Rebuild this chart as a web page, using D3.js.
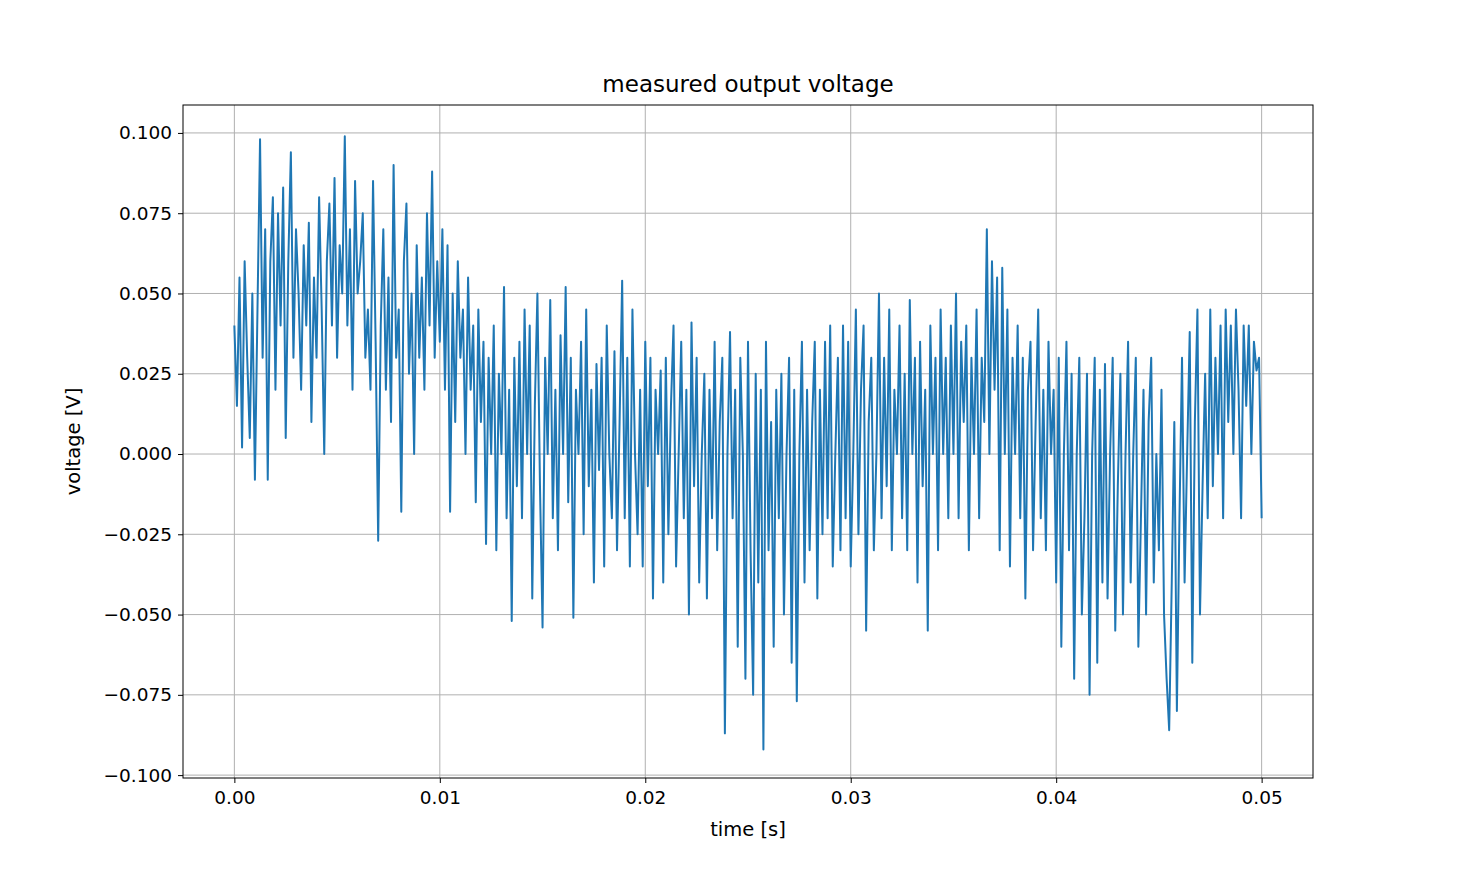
<!DOCTYPE html>
<html><head><meta charset="utf-8">
<script src="https://cdn.jsdelivr.net/npm/d3@7"></script>
<style>body{margin:0;background:#fff}text{font-family:"DejaVu Sans",sans-serif}</style>
</head><body><svg id="c" width="1459" height="875"></svg>
<script>
const title = "measured output voltage";
const xLabel = "time [s]";
const yLabel = "voltage [V]";
const xTicks = [0, 0.01, 0.02, 0.03, 0.04, 0.05];
const yTicks = [-0.1, -0.075, -0.05, -0.025, 0, 0.025, 0.05, 0.075, 0.1];
const dt = 0.000125;
const voltage = [
0.04,0.015,0.055,0.002,0.06,0.03,0.005,0.05,-0.008,0.045,
0.098,0.03,0.07,-0.008,0.06,0.08,0.02,0.075,0.04,0.083,
0.005,0.06,0.094,0.03,0.07,0.05,0.02,0.065,0.04,0.072,
0.01,0.055,0.03,0.08,0.045,0.0,0.06,0.078,0.04,0.086,
0.03,0.065,0.05,0.099,0.04,0.07,0.02,0.085,0.05,0.06,
0.075,0.03,0.045,0.02,0.085,0.035,-0.027,0.04,0.07,0.02,
0.055,0.01,0.09,0.03,0.045,-0.018,0.06,0.078,0.025,0.05,
0.0,0.065,0.03,0.055,0.02,0.075,0.04,0.088,0.03,0.06,
0.035,0.07,0.02,0.065,-0.018,0.05,0.01,0.06,0.03,0.045,
0.0,0.055,0.02,0.04,-0.015,0.045,0.01,0.035,-0.028,0.03,
0.0,0.04,-0.03,0.025,0.0,0.052,-0.02,0.02,-0.052,0.03,
-0.01,0.035,-0.02,0.045,0.0,0.04,-0.045,0.015,0.05,-0.01,
-0.054,0.03,0.0,0.048,-0.02,0.02,-0.03,0.037,0.0,0.052,
-0.015,0.03,-0.051,0.02,0.0,0.035,-0.025,0.045,-0.01,0.02,
-0.04,0.028,-0.005,0.03,-0.035,0.04,0.0,-0.02,0.032,-0.03,
0.01,0.054,-0.02,0.03,-0.035,0.045,0.0,-0.025,0.02,-0.035,
0.035,-0.01,0.03,-0.045,0.02,0.0,0.026,-0.04,0.03,-0.025,
0.015,0.04,-0.035,0.0,0.035,-0.02,0.02,-0.05,0.041,-0.01,
0.03,-0.04,0.0,0.025,-0.045,0.02,-0.02,0.035,-0.03,0.01,
0.03,-0.087,0.0,0.038,-0.02,0.02,-0.06,0.03,0.0,-0.07,
0.035,-0.03,-0.075,0.025,-0.04,0.02,-0.092,0.035,-0.03,0.01,
-0.06,0.02,-0.02,0.025,-0.05,0.0,0.03,-0.065,0.02,-0.077,
0.0,0.035,-0.04,0.02,-0.03,0.01,0.035,-0.045,0.02,-0.025,
0.035,-0.02,0.04,-0.035,0.0,0.03,-0.03,0.04,-0.02,0.035,
-0.035,0.0,0.045,-0.025,0.02,0.04,-0.055,0.01,0.03,-0.03,
0.0,0.05,-0.02,0.03,-0.01,0.045,-0.03,0.02,0.0,0.04,
-0.02,0.025,-0.03,0.048,0.0,0.03,-0.04,0.035,-0.01,0.02,
-0.055,0.04,0.0,0.03,-0.03,0.045,0.0,0.03,-0.02,0.04,
0.0,0.05,-0.02,0.035,0.01,0.04,-0.03,0.03,0.0,0.045,
-0.02,0.03,0.01,0.07,0.0,0.06,0.02,0.055,-0.03,0.058,
0.0,0.045,-0.035,0.03,0.0,0.04,-0.02,0.03,-0.045,0.02,
0.035,-0.03,0.01,0.045,-0.02,0.02,-0.03,0.035,0.0,0.02,
-0.04,0.03,-0.06,0.0,0.035,-0.03,0.025,-0.07,0.0,0.03,
-0.05,-0.02,0.025,-0.075,0.0,0.03,-0.065,0.02,-0.04,0.028,
-0.045,0.0,0.03,-0.055,-0.01,0.025,-0.05,0.0,0.035,-0.04,
0.0,0.03,-0.06,-0.02,0.02,-0.05,0.01,0.03,-0.04,0.0,
-0.03,0.02,-0.05,-0.07,-0.086,-0.04,0.01,-0.08,-0.02,0.03,
-0.04,0.0,0.038,-0.065,0.01,0.045,-0.05,-0.01,0.025,-0.02,
0.045,-0.01,0.03,0.0,0.04,-0.02,0.045,0.01,0.04,0.0,
0.045,0.02,-0.02,0.04,0.015,0.04,0.0,0.035,0.026,0.03,
-0.02];
const data = voltage.map((v,i)=>({t:i*dt,v}));
const L=183,R=1313,T=105,B=778;
const svg=d3.select("#c");
const x=d3.scaleLinear().domain([-0.0025,0.0525]).range([L,R]);
const y=d3.scaleLinear().domain([-0.1009,0.1087]).range([B,T]);
const g=svg.append("g");
g.selectAll(".gx").data(xTicks).join("line").attr("x1",d=>x(d)).attr("x2",d=>x(d)).attr("y1",T).attr("y2",B).attr("stroke","#b0b0b0").attr("stroke-width",1);
g.selectAll(".gy").data(yTicks).join("line").attr("y1",d=>y(d)).attr("y2",d=>y(d)).attr("x1",L).attr("x2",R).attr("stroke","#b0b0b0").attr("stroke-width",1);
svg.append("defs").append("clipPath").attr("id","cp").append("rect").attr("x",L).attr("y",T).attr("width",R-L).attr("height",B-T);
svg.append("path").datum(data).attr("clip-path","url(#cp)").attr("fill","none").attr("stroke","#1f77b4").attr("stroke-width",2).attr("stroke-linejoin","round")
 .attr("d",d3.line().x(d=>x(d.t)).y(d=>y(d.v)));
svg.append("rect").attr("x",L).attr("y",T).attr("width",R-L).attr("height",B-T).attr("fill","none").attr("stroke","#000").attr("stroke-width",1);
const fmt=d=>(d<0?"\u2212":"")+Math.abs(d).toFixed(3);
const xa=svg.append("g").attr("transform",`translate(0,${B})`).call(d3.axisBottom(x).tickValues(xTicks).tickFormat(d=>d.toFixed(2)).tickSize(5).tickPadding(8));
const ya=svg.append("g").attr("transform",`translate(${L},0)`).call(d3.axisLeft(y).tickValues(yTicks).tickFormat(fmt).tickSize(5).tickPadding(6));
[xa,ya].forEach(a=>{a.select(".domain").remove();a.selectAll("text").attr("font-size",18.5).attr("fill","#000").style("font-family","DejaVu Sans");a.selectAll("line").attr("stroke","#000");});
svg.append("text").attr("x",(L+R)/2).attr("y",92).attr("text-anchor","middle").attr("font-size",23).text(title);
svg.append("text").attr("x",(L+R)/2).attr("y",836).attr("text-anchor","middle").attr("font-size",19.5).text(xLabel);
svg.append("text").attr("transform",`translate(80,${(T+B)/2}) rotate(-90)`).attr("text-anchor","middle").attr("font-size",19.5).text(yLabel);
</script></body></html>
